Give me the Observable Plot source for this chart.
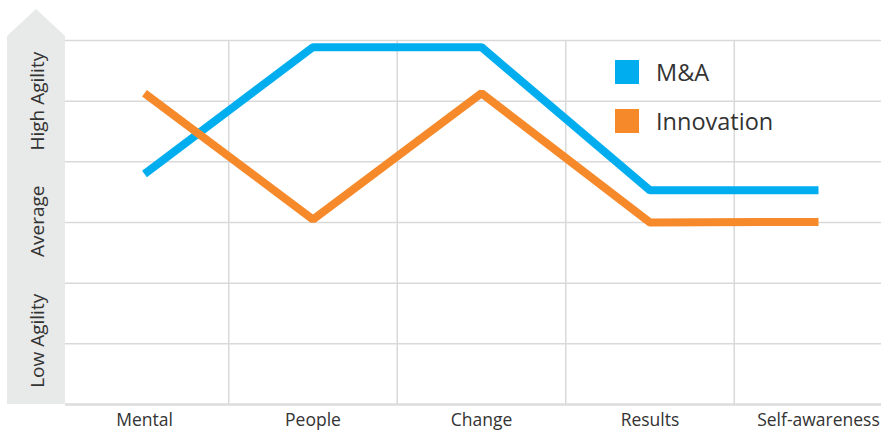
<!DOCTYPE html>
<html>
<head>
<meta charset="utf-8">
<script src="https://cdn.jsdelivr.net/npm/d3@7"></script>
<script src="https://cdn.jsdelivr.net/npm/@observablehq/plot@0.6"></script>
<style>
  html, body { margin: 0; padding: 0; background: #fff; }
  #chart { position: relative; width: 881px; height: 432px; font-family: "Open Sans", sans-serif; }
  .legend { position: absolute; left: 615px; top: 60px; color: #333; font-size: 23.5px; }
  .legend .item { display: flex; align-items: center; height: 24px; margin-bottom: 25px; }
  .legend .sw { width: 24px; height: 24px; margin-right: 17px; }
</style>
</head>
<body>
<div id="chart"></div>
<script>
const categories = ["Mental", "People", "Change", "Results", "Self-awareness"];
const seriesNames = ["M&A", "Innovation"];
const seriesColors = ["#00AEEF", "#F6892A"];
const maValues = [3.80, 5.89, 5.89, 3.53, 3.53];
const innovationValues = [5.13, 3.05, 5.13, 3.00, 3.01];
const agilityLabels = ["Low Agility", "Average", "High Agility"];
const agilityLabelLevels = [1.05, 3.02, 5.0];
const gridLevels = [0, 1, 2, 3, 4, 5, 6];
const bandBoundaries = [0.5, 1.5, 2.5, 3.5];

const data = [
  ...maValues.map((v, i) => ({series: seriesNames[0], i, v})),
  ...innovationValues.map((v, i) => ({series: seriesNames[1], i, v}))
];

const xLeft = -0.4688, xRight = 4.3739;

const plot = Plot.plot({
  width: 881,
  height: 432,
  marginLeft: 65,
  marginRight: 0,
  marginTop: 40,
  marginBottom: 28,
  style: {fontFamily: "Open Sans, sans-serif", fontSize: "17px", color: "#333", background: "transparent"},
  x: {type: "linear", domain: [xLeft, xRight], axis: null, label: null},
  y: {domain: [0, 6], axis: null, label: null},
  color: {domain: seriesNames, range: seriesColors},
  marks: [
    Plot.ruleY(gridLevels.filter(d => d > 0), {stroke: "#d9d9d9", strokeWidth: 1.5}),
    Plot.ruleY([0], {stroke: "#dcdcdc", strokeWidth: 2.5}),
    Plot.ruleX(bandBoundaries, {y1: 0, y2: 6, stroke: "#d9d9d9", strokeWidth: 1.5}),
    Plot.line(data, {x: "i", y: "v", z: "series", stroke: "series", strokeWidth: 8, strokeLinejoin: "miter", strokeLinecap: "butt", curve: "linear"}),
    Plot.axisX({ticks: [0, 1, 2, 3, 4], tickFormat: i => categories[i], tickSize: 0, tickPadding: 9, fontSize: 17.5, fill: "#333", label: null}),
    Plot.text(agilityLabels, {
      x: () => xLeft, y: (d, k) => agilityLabelLevels[k], text: d => d,
      rotate: -90, dx: -28, fontSize: 19, fill: "#333"
    })
  ]
});

// decorative gray arrow band behind the left labels
const svg = d3.select(plot);
const ys = plot.scale("y");
const yBottom = ys.apply(0), yTop = ys.apply(6);
const bandLeft = 7, bandRight = 65;
const mid = (bandLeft + bandRight) / 2;
svg.insert("path", ":first-child")
  .attr("d", `M${bandLeft},${yBottom} L${bandLeft},${yTop - 4} L${mid},${yTop - 31} L${bandRight},${yTop - 4} L${bandRight},${yBottom} Z`)
  .attr("fill", "#e8e9e9");

const chart = document.getElementById("chart");
chart.appendChild(plot);

const legend = document.createElement("div");
legend.className = "legend";
seriesNames.forEach((name, k) => {
  const item = document.createElement("div");
  item.className = "item";
  const sw = document.createElement("div");
  sw.className = "sw";
  sw.style.background = seriesColors[k];
  const label = document.createElement("span");
  label.textContent = name;
  item.appendChild(sw);
  item.appendChild(label);
  legend.appendChild(item);
});
chart.appendChild(legend);
</script>
</body>
</html>
